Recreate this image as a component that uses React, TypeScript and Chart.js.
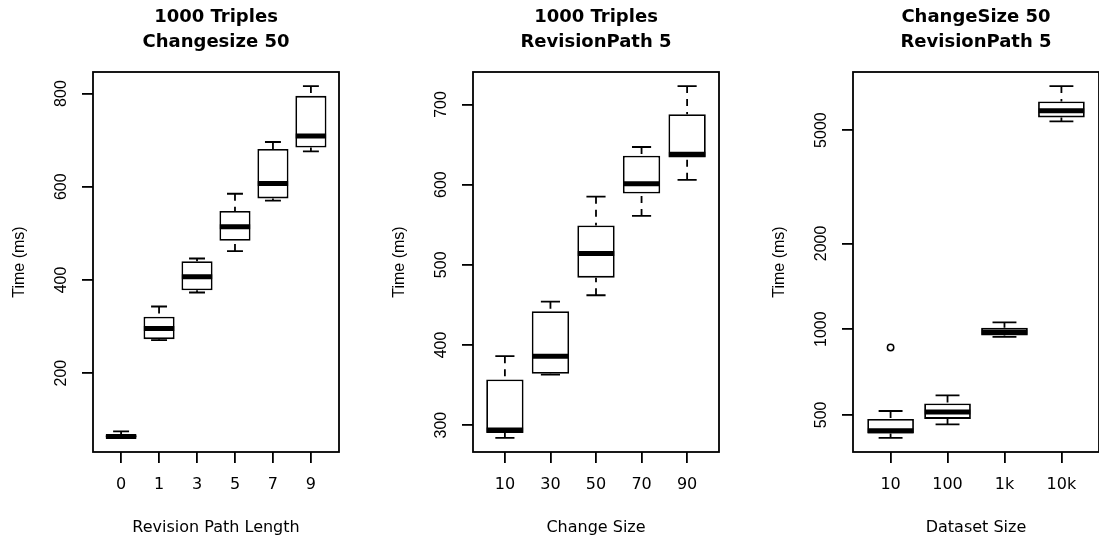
import React, { useEffect, useRef } from "react";
import { Chart, registerables } from "chart.js";

Chart.register(...registerables);

// ---------- Panel 1: Revision Path Length ----------
const titles1 = ["1000 Triples", "Changesize 50"];
const categories1 = ["0", "1", "3", "5", "7", "9"];
const min1 = [61, 271, 373, 462, 570, 676];
const q1_1 = [62, 273, 378, 484, 575, 684];
const med1 = [64, 296, 407, 514, 607, 709];
const q3_1 = [67, 321, 440, 548, 681, 795];
const max1 = [75, 343, 446, 585, 696, 816];
const outlierIdx1: number[] = [];
const outlierVal1: number[] = [];
const yTicks1 = [200, 400, 600, 800];
const xLabel1 = "Revision Path Length";

// ---------- Panel 2: Change Size ----------
const titles2 = ["1000 Triples", "RevisionPath 5"];
const categories2 = ["10", "30", "50", "70", "90"];
const min2 = [284, 363, 462, 561, 606];
const q1_2 = [290, 364, 484, 589, 634];
const med2 = [294, 386, 514, 601, 638];
const q3_2 = [357, 442, 549, 636, 688];
const max2 = [386, 454, 585, 647, 723];
const outlierIdx2: number[] = [];
const outlierVal2: number[] = [];
const yTicks2 = [300, 400, 500, 600, 700];
const xLabel2 = "Change Size";

// ---------- Panel 3: Dataset Size (log scale) ----------
const titles3 = ["ChangeSize 50", "RevisionPath 5"];
const categories3 = ["10", "100", "1k", "10k"];
const min3 = [415, 463, 940, 5364];
const q1_3 = [430, 484, 950, 5541];
const med3 = [440, 512, 978, 5846];
const q3_3 = [484, 548, 1011, 6306];
const max3 = [516, 585, 1056, 7139];
const outlierIdx3 = [0];
const outlierVal3 = [862];
const yTicks3 = [500, 1000, 2000, 5000];
const xLabel3 = "Dataset Size";

const yLabel = "Time (ms)";

// ---------- layout / style ----------
const H_FONT = "'DejaVu Sans', sans-serif";
const V_FONT = "'Liberation Sans', Arial, sans-serif";
const FRAME_LEFTS = [93, 473, 853];
const SIDE = 100;
const AREA_W = 246;
const CANVAS_W = AREA_W + 2 * SIDE;
const CANVAS_H = 539;

type Spec = {
  titles: string[];
  categories: string[];
  mins: number[];
  q1: number[];
  med: number[];
  q3: number[];
  maxs: number[];
  outIdx: number[];
  outVal: number[];
  yTicks: number[];
  xLabel: string;
  log: boolean;
  yTickPad: number;
};

const panels: Spec[] = [
  { titles: titles1, categories: categories1, mins: min1, q1: q1_1, med: med1, q3: q3_1, maxs: max1, outIdx: outlierIdx1, outVal: outlierVal1, yTicks: yTicks1, xLabel: xLabel1, log: false, yTickPad: 7.2 },
  { titles: titles2, categories: categories2, mins: min2, q1: q1_2, med: med2, q3: q3_2, maxs: max2, outIdx: outlierIdx2, outVal: outlierVal2, yTicks: yTicks2, xLabel: xLabel2, log: false, yTickPad: 7.2 },
  { titles: titles3, categories: categories3, mins: min3, q1: q1_3, med: med3, q3: q3_3, maxs: max3, outIdx: outlierIdx3, outVal: outlierVal3, yTicks: yTicks3, xLabel: xLabel3, log: true, yTickPad: 2.7 },
];

const framePlugin = {
  id: "rframe",
  afterDraw(chart: any) {
    const { ctx, chartArea: a } = chart;
    ctx.save();
    ctx.strokeStyle = "#000";
    ctx.lineWidth = 1.8;
    ctx.strokeRect(a.left, a.top, a.right - a.left, a.bottom - a.top);
    ctx.restore();
  },
};

function makeConfig(p: Spec): any {
  const n = p.categories.length;
  const xs = p.categories.map((_, i) => i + 1);
  const GAP = () => ({ x: NaN, y: NaN });
  const all = [...p.mins, ...p.maxs, ...p.outVal];
  const lo = Math.min(...all);
  const hi = Math.max(...all);
  let yMin: number, yMax: number;
  if (p.log) {
    const a = Math.log10(lo), b = Math.log10(hi), r = b - a;
    yMin = Math.pow(10, a - 0.04 * r);
    yMax = Math.pow(10, b + 0.04 * r);
  } else {
    const r = hi - lo;
    yMin = lo - 0.04 * r;
    yMax = hi + 0.04 * r;
  }
  const STAPLE = 0.21;
  const HALF = 0.4;

  const datasets: any[] = [
    {
      type: "bar",
      data: xs.map((x, i) => ({ x, y: [p.q1[i], p.q3[i]] })),
      backgroundColor: "#ffffff",
      borderColor: "#000000",
      borderWidth: 1.8,
      borderSkipped: false,
      barPercentage: 0.82,
      categoryPercentage: 1,
      grouped: false,
      order: 4,
    },
    {
      type: "line",
      data: xs.flatMap((x, i) => [
        { x, y: p.maxs[i] }, { x, y: p.q3[i] }, GAP(),
        { x, y: p.mins[i] }, { x, y: p.q1[i] }, GAP(),
      ]),
      borderColor: "#000000",
      borderWidth: 1.8,
      borderDash: [7, 6],
      borderCapStyle: "butt",
      pointRadius: 0,
      spanGaps: false,
      tension: 0,
      order: 3,
    },
    {
      type: "line",
      data: xs.flatMap((x, i) => [
        { x: x - STAPLE, y: p.maxs[i] }, { x: x + STAPLE, y: p.maxs[i] }, GAP(),
        { x: x - STAPLE, y: p.mins[i] }, { x: x + STAPLE, y: p.mins[i] }, GAP(),
      ]),
      borderColor: "#000000",
      borderWidth: 1.8,
      borderCapStyle: "butt",
      pointRadius: 0,
      spanGaps: false,
      tension: 0,
      order: 2,
    },
    {
      type: "line",
      data: xs.flatMap((x, i) => [
        { x: x - HALF, y: p.med[i] }, { x: x + HALF, y: p.med[i] }, GAP(),
      ]),
      borderColor: "#000000",
      borderWidth: 5,
      borderCapStyle: "butt",
      pointRadius: 0,
      spanGaps: false,
      tension: 0,
      order: 1,
    },
    {
      type: "scatter",
      data: p.outIdx.map((c, i) => ({ x: c + 1, y: p.outVal[i] })),
      pointRadius: 3.2,
      pointBorderWidth: 1.5,
      pointBorderColor: "#000000",
      pointBackgroundColor: "rgba(0,0,0,0)",
      order: 0,
    },
  ];

  const tickGrid = {
    display: true,
    drawOnChartArea: false,
    drawTicks: true,
    tickLength: 11,
    tickWidth: 1.8,
    tickColor: "#000000",
    color: "#000000",
    lineWidth: 1.8,
    offset: false,
  };

  return {
    type: "bar",
    data: { datasets },
    plugins: [framePlugin],
    options: {
      animation: false,
      responsive: false,
      events: [],
      layout: { padding: 0 },
      plugins: {
        legend: { display: false },
        tooltip: { enabled: false },
        title: {
          display: true,
          text: p.titles,
          color: "#000000",
          font: { family: H_FONT, size: 18, weight: "bold", lineHeight: "25px" },
          padding: { top: 4.5, bottom: 17.5 },
        },
      },
      scales: {
        x: {
          type: "linear",
          min: 0.5 - 0.04 * n,
          max: n + 0.5 + 0.04 * n,
          offset: false,
          bounds: "data",
          afterBuildTicks: (s: any) => {
            s.ticks = xs.map((v) => ({ value: v }));
          },
          afterFit: (s: any) => {
            s.height = 87;
          },
          ticks: {
            autoSkip: false,
            minRotation: 0,
            maxRotation: 0,
            padding: 12.6,
            color: "#000000",
            font: { family: H_FONT, size: 16, lineHeight: 1.2 },
            callback: (v: any) => p.categories[Math.round(Number(v)) - 1] ?? "",
          },
          grid: tickGrid,
          border: { display: false },
          title: {
            display: true,
            text: p.xLabel,
            color: "#000000",
            font: { family: H_FONT, size: 16, lineHeight: 1.2 },
            padding: { top: 0, bottom: 1.5 },
          },
        },
        y: {
          type: p.log ? "logarithmic" : "linear",
          position: "left",
          min: yMin,
          max: yMax,
          bounds: "data",
          beginAtZero: false,
          afterBuildTicks: (s: any) => {
            s.ticks = p.yTicks.map((v) => ({ value: v }));
          },
          afterFit: (s: any) => {
            s.width = SIDE;
          },
          ticks: {
            autoSkip: false,
            minRotation: 90,
            maxRotation: 90,
            crossAlign: "center",
            padding: p.yTickPad,
            color: "#000000",
            font: { family: V_FONT, size: 16, lineHeight: 1.2 },
            callback: (v: any) => String(v),
          },
          grid: tickGrid,
          border: { display: false },
          title: {
            display: true,
            text: yLabel,
            color: "#000000",
            font: { family: V_FONT, size: 16, lineHeight: 1.2 },
            padding: { top: 16.9, bottom: 0 },
          },
        },
        // empty right-hand spacer axis, the same width as the left axis,
        // so that the title is centred over the plot frame
        ySpacer: {
          type: "linear",
          position: "right",
          display: true,
          min: 0,
          max: 1,
          afterFit: (s: any) => {
            s.width = SIDE;
          },
          ticks: { display: false },
          grid: { display: false, drawTicks: false },
          border: { display: false },
          title: { display: false },
        },
      },
    },
  };
}

function Panel({ spec, left }: { spec: Spec; left: number }) {
  const ref = useRef<HTMLCanvasElement | null>(null);
  useEffect(() => {
    if (!ref.current) return;
    const chart = new Chart(ref.current, makeConfig(spec));
    return () => chart.destroy();
  }, [spec]);
  return (
    <canvas
      ref={ref}
      width={CANVAS_W}
      height={CANVAS_H}
      style={{ position: "absolute", left, top: 0 }}
    />
  );
}

export default function App() {
  return (
    <div
      style={{
        position: "fixed",
        left: 0,
        top: 0,
        width: 1099,
        height: 539,
        overflow: "hidden",
        background: "#ffffff",
      }}
    >
      {panels.map((p, i) => (
        <Panel key={i} spec={p} left={FRAME_LEFTS[i] - SIDE} />
      ))}
    </div>
  );
}
